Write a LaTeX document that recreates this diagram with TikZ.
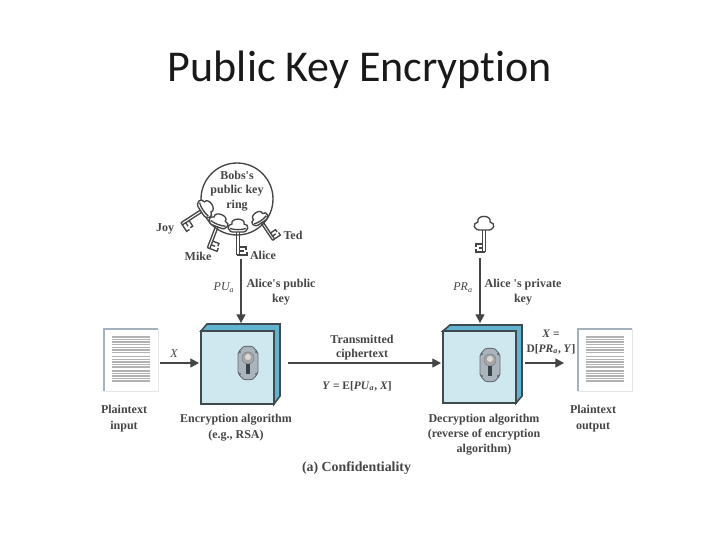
\documentclass[tikz,border=0pt]{standalone}
\usepackage{fontspec}
\setmainfont{Liberation Serif}[Ligatures=TeXOff]
\newfontfamily\titlefont{Carlito}[Ligatures=CommonOff]
\usetikzlibrary{arrows.meta}
\definecolor{ink}{HTML}{454545}
\definecolor{edgec}{HTML}{3F4A4F}
\definecolor{frontc}{HTML}{CFE8F0}
\definecolor{sidec}{HTML}{62B3CF}
\definecolor{platec}{HTML}{A9B4BD}
\definecolor{docedge}{HTML}{A3B2BC}
\tikzset{
  lbl/.style={text=ink,font=\fontsize{9}{11}\selectfont\bfseries,align=center,inner sep=0pt},
  mathlbl/.style={text=ink,font=\fontsize{9}{11}\selectfont\itshape,align=center,inner sep=0pt},
  eqlbl/.style={lbl,font=\fontsize{8.6}{11}\selectfont\bfseries},
  arrowline/.style={draw=ink,line width=0.8pt,-{Triangle[length=6.5pt,width=6.8pt]}},
  keyline/.style={draw=ink,line width=1pt},
  keyshape/.pic={
    \draw[keyline] (-1.3,6) -- (-1.3,29) (1.3,6) -- (1.3,29);
    \draw[keyline,line join=miter] (-1.3,29) -- (9,29) -- (9,25.5)
      (1.3,25) -- (5.5,25) (1.3,21) -- (8,21) -- (8,24);
    \path[keyline,fill=white] (-3,6) .. controls (-11,7) and (-12,-2) .. (-6,-2)
      .. controls (-8,-8.5) and (8,-8.5) .. (6,-2)
      .. controls (12,-2) and (11,7) .. (3,6) -- cycle;
    \draw[keyline] (-8,2.5) .. controls (-3,4) and (3,4) .. (8,2.5);
  },
  privkeyshape/.pic={
    \draw[keyline] (-1.3,6) -- (-1.3,28) (1.3,6) -- (1.3,28);
    \draw[keyline,line join=miter] (-1.3,28) -- (8,28) -- (8,25)
      (1.3,24) -- (5,24) (1.3,20) -- (8,20) -- (8,23);
    \path[keyline,fill=white] (-2.5,6) .. controls (-11,7) and (-12,-1) .. (-6,-2)
      .. controls (-8,-9.5) and (8,-9.5) .. (6,-2)
      .. controls (12,-1) and (11,7) .. (2.5,6) -- cycle;
  },
  lockshape/.pic={
    \path[draw=edgec!80,line width=0.7pt,fill=platec]
      (-5,-16) .. controls (-2,-17) and (2,-17) .. (5,-16)
      .. controls (7,-13) and (10,-12) .. (10,-9) -- (10,9)
      .. controls (10,12) and (7,13) .. (5,16)
      .. controls (2,17) and (-2,17) .. (-5,16)
      .. controls (-7,13) and (-10,12) .. (-10,9) -- (-10,-9)
      .. controls (-10,-12) and (-7,-13) .. (-5,-16) -- cycle;
    \fill[gray!70,draw=edgec!70,line width=0.4pt] (0,-5) circle (6);
    \fill[gray!30] (0,-6) circle (3);
    \fill[edgec!90!black] (-2.3,1) rectangle (2.3,11);
    \fill[edgec!90!black] (-8,-11) circle (0.9) (8,-11) circle (0.9) (-8,11) circle (0.9) (8,11) circle (0.9);
  },
  docshape/.pic={
    \path[fill=white,draw=gray!20,line width=0.7pt] (0,0) rectangle (54,62);
    \draw[docedge,line width=1.5pt] (0,62) -- (0,0) -- (54,0);
    \foreach \yy in {8,10.5,13,15.5,18.5,21,23.5,27.5,30.5,33,35.5,38,42,44.5,47,49.5,52} {
      \draw[gray!60,line width=0.8pt] (8,\yy) -- (46,\yy);
    }
  }
}
\begin{document}
\begin{tikzpicture}[x=0.75pt,y=-0.75pt]
\useasboundingbox (0,0) rectangle (720,540);
\fill[white] (0,0) rectangle (720,540);
\node[font=\titlefont\fontsize{33}{36}\selectfont,text=black!90,inner sep=0pt] (title) at (360,70) {Public Key Encryption};

% key ring
\node[draw=ink,line width=1pt,circle,minimum size=54pt,inner sep=0pt] (ring) at (237,199) {};
\node[lbl,font=\fontsize{9}{10.9}\selectfont\bfseries] (ringtxt) at (237,191) {Bobs's\\public key\\ring};
\pic at (206,208) [rotate=-57] {keyshape};
\pic at (219,221) [rotate=-21] {keyshape};
\pic at (259,218) [rotate=34,scale=0.9] {keyshape};
\pic at (238,226) {keyshape};
\node[lbl] (joy) at (165,228.5) {Joy};
\node[lbl] (mike) at (198,256.5) {Mike};
\node[lbl] (alice) at (263,255.5) {Alice};
\node[lbl] (ted) at (293,235.5) {Ted};

% private key
\pic at (484,224) [xscale=-1] {privkeyshape};

% boxes
\path[draw=edgec,line width=1.2pt,fill=sidec] (201,331) -- (207,324) -- (280,324) -- (280,396) -- (274,404) -- (274,331) -- cycle;
\node[draw=edgec,line width=1.2pt,fill=frontc,minimum width=54.5pt,minimum height=54.5pt,inner sep=0pt] (enc) at (237.5,367.5) {};
\path[draw=edgec,line width=1.2pt,fill=sidec] (443,331) -- (450,325) -- (522,325) -- (522,396) -- (516,403) -- (516,331) -- cycle;
\node[draw=edgec,line width=1.2pt,fill=frontc,minimum width=54.5pt,minimum height=54pt,inner sep=0pt] (dec) at (479.5,367) {};
\pic at (248,363) {lockshape};
\pic at (490,365) {lockshape};

% documents
\pic at (104,329) {docshape};
\pic at (578,329) {docshape};

% connectors
\coordinate (xs) at (160,363);
\coordinate (xe) at (199,363);
\coordinate (cs) at (288,363);
\coordinate (ce) at (441,363);
\coordinate (os) at (525,363);
\coordinate (oe) at (564,363);
\coordinate (pus) at (241,259);
\coordinate (pue) at (241,323);
\coordinate (prs) at (480,258);
\coordinate (pre) at (480,323);
\draw[arrowline] (xs) -- (xe);
\draw[arrowline] (cs) -- (ce);
\draw[arrowline] (os) -- (oe);
\draw[arrowline] (pus) -- (pue);
\draw[arrowline] (prs) -- (pre);

% labels
\node[mathlbl] (pua) at (224,287.5) {PU\textsubscript{a}};
\node[lbl] (pubk) at (281,292) {Alice's public\\key};
\node[mathlbl] (pra) at (463,287.5) {PR\textsubscript{a}};
\node[lbl] (prik) at (523,292) {Alice 's private\\key};
\node[lbl] (trans) at (362,347.5) {Transmitted\\ciphertext};
\node[eqlbl] (yeq) at (357,386) {\textit{Y} = E[\textit{PU}\textsubscript{\textit{a}}, \textit{X}]};
\node[mathlbl] (xl) at (174,354) {X};
\node[eqlbl] (xeq) at (551,342) {\textit{X} =\\D[\textit{PR}\textsubscript{\textit{a}}, \textit{Y}]};
\node[lbl,font=\fontsize{9}{12}\selectfont\bfseries] (pin) at (124,419) {Plaintext\\input};
\node[lbl,font=\fontsize{9}{12}\selectfont\bfseries] (pout) at (593,419) {Plaintext\\output};
\node[lbl,font=\fontsize{9}{12}\selectfont\bfseries] (enct) at (236,428) {Encryption algorithm\\(e.g., RSA)};
\node[lbl] (dect) at (484,434.5) {Decryption algorithm\\(reverse of encryption\\algorithm)};
\node[lbl,font=\fontsize{10.4}{12}\selectfont\bfseries] (conf) at (356.5,468) {(a) Confidentiality};
\end{tikzpicture}
\end{document}
